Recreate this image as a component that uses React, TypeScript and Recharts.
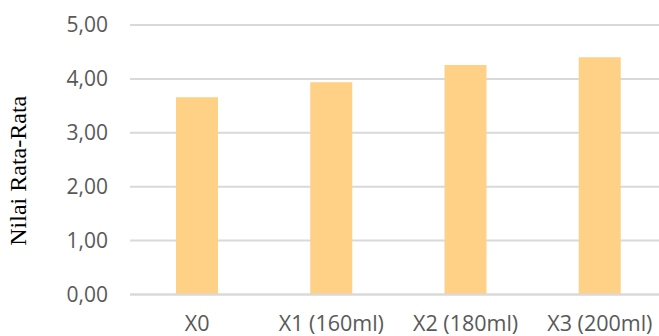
import { BarChart, Bar, XAxis, YAxis, CartesianGrid } from 'recharts'

const categories = ['X0', 'X1 (160ml)', 'X2 (180ml)', 'X3 (200ml)']
const averages = [3.66, 3.94, 4.26, 4.4]
const yTicks = [0, 1, 2, 3, 4, 5]

const BAR_COLOR = '#FFD186'
const GRID_COLOR = '#D9D9D9'
const TEXT_COLOR = '#595959'
const FONT = '"Open Sans", "Noto Sans", sans-serif'

const data = categories.map((name, i) => ({ name, value: averages[i] }))

const fmt = (v: number) => v.toFixed(2).replace('.', ',')

// rotated axis title, sitting a bit below the plot's middle
function YTitle({ viewBox }: any) {
  const x = viewBox.x + 26
  const y = viewBox.y + viewBox.height / 2 + 11
  return (
    <text
      x={x}
      y={y}
      transform={`rotate(-90, ${x}, ${y})`}
      textAnchor="middle"
      fontSize={24}
      fill="#000"
      fontFamily='"Liberation Serif", "Times New Roman", serif'
    >
      Nilai Rata-Rata
    </text>
  )
}

export default function App() {
  // plot runs a little past the right edge, so clip the frame
  return (
    <div
      style={{
        position: 'absolute',
        left: 0,
        top: 0,
        width: 659,
        height: 336,
        overflow: 'hidden',
        background: '#fff',
      }}
    >
      <BarChart
        width={680}
        height={336}
        data={data}
        margin={{ top: 25, right: 13, bottom: 0, left: 0 }}
      >
        <CartesianGrid vertical={false} stroke={GRID_COLOR} strokeWidth={2} />
        <XAxis
          dataKey="name"
          height={41.5}
          axisLine={{ stroke: GRID_COLOR, strokeWidth: 2 }}
          tickLine={false}
          tickSize={0}
          tickMargin={21.5}
          interval={0}
          tick={{ fontSize: 21.5, fill: TEXT_COLOR, fontFamily: FONT }}
        />
        <YAxis
          width={130}
          domain={[0, 5]}
          ticks={yTicks}
          tickFormatter={fmt}
          axisLine={false}
          tickLine={false}
          tickSize={0}
          tickMargin={22}
          tick={{ fontSize: 21, fill: TEXT_COLOR, fontFamily: FONT }}
          label={<YTitle />}
        />
        <Bar dataKey="value" fill={BAR_COLOR} barSize={42} isAnimationActive={false} />
      </BarChart>
    </div>
  )
}
